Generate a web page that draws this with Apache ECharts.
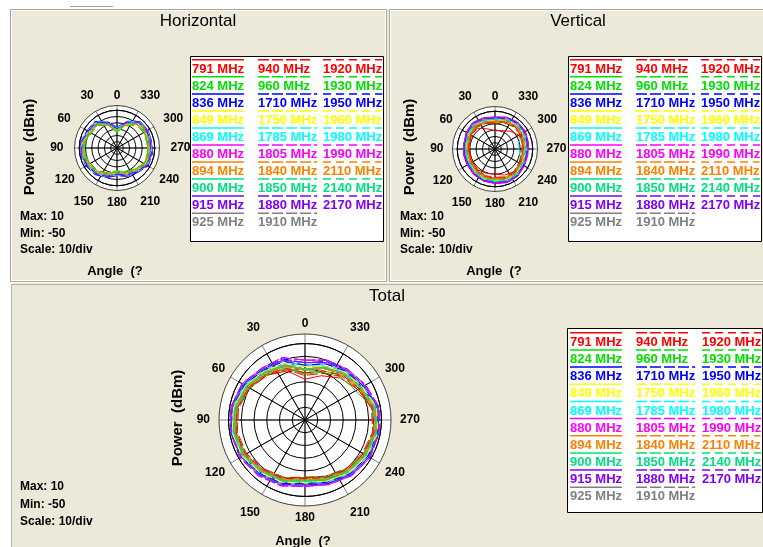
<!DOCTYPE html>
<html>
<head>
<meta charset="utf-8">
<script src="https://cdn.jsdelivr.net/npm/echarts@6/dist/echarts.min.js"></script>
<style>
html,body{margin:0;padding:0;background:#fff;}
#c{width:763px;height:547px;}
</style>
</head>
<body>
<div id="c"></div>
<script>
// ---------------- DATA ----------------
const ANGLES = [0,20,40,60,80,100,120,140,160,180,200,220,240,260,280,300,320,340];
const ANGLE_TICKS = [0,30,60,90,120,150,180,210,240,270,300,330];
const FREQS = ['791 MHz','824 MHz','836 MHz','849 MHz','869 MHz','880 MHz','894 MHz','900 MHz','915 MHz','925 MHz',
  '940 MHz','960 MHz','1710 MHz','1750 MHz','1785 MHz','1805 MHz','1840 MHz','1850 MHz','1880 MHz','1910 MHz',
  '1920 MHz','1930 MHz','1950 MHz','1960 MHz','1980 MHz','1990 MHz','2110 MHz','2140 MHz','2170 MHz'];
const R_MIN = -50, R_MAX = 10, R_STEP = 10;

// Horizontal (dBm), one row per frequency, at ANGLES
const H_DATA = [
[-19,-7,3,3,8,8,5,3,-2,-8,-4,-1,5,5,4,5,4,-7],
[-23,-11,-1,-1,4,4,1,-1,-6,-12,-8,-5,1,1,0,1,0,-11],
[-20,-9,1,2,6,7,3,1,-4,-10,-6,-3,4,3,2,3,2,-9],
[-24,-12,-2,-2,3,3,0,-2,-7,-13,-9,-6,0,0,-1,0,-1,-12],
[-20,-8,2,2,7,7,4,2,-3,-9,-5,-2,4,4,3,4,3,-8],
[-18,-6,4,4,9,8,6,4,-1,-7,-3,0,6,6,5,6,5,-6],
[-22,-10,0,0,5,5,2,0,-5,-11,-7,-4,2,2,1,2,1,-10],
[-21,-9,1,1,6,6,3,1,-4,-10,-6,-3,3,3,2,3,2,-9],
[-19,-8,3,3,8,7,5,3,-2,-8,-4,-1,5,4,4,5,4,-7],
[-23,-11,-1,-1,4,4,1,-1,-6,-12,-8,-5,1,1,0,1,0,-11],
[-20,-8,2,2,7,7,4,2,-3,-9,-5,-2,4,4,3,4,3,-8],
[-24,-12,-2,-2,3,3,0,-2,-7,-13,-9,-6,0,0,-1,0,-1,-12],
[-17,-5,5,5,9,9,7,5,0,-6,-2,1,7,7,6,7,6,-5],
[-20,-8,2,2,7,6,4,2,-3,-9,-5,-2,4,4,3,4,3,-8],
[-19,-7,3,3,8,8,5,3,-2,-8,-4,-1,5,5,4,5,4,-7],
[-22,-10,0,0,5,5,2,0,-5,-11,-7,-4,2,2,1,2,1,-10],
[-23,-11,-1,-1,4,4,1,-1,-6,-12,-8,-5,1,1,0,1,0,-11],
[-21,-9,1,1,6,6,3,1,-4,-10,-6,-3,3,3,2,3,2,-9],
[-18,-6,4,4,9,9,6,4,-1,-7,-3,0,6,6,5,6,5,-6],
[-22,-10,0,0,5,5,2,0,-5,-11,-7,-4,2,2,1,2,1,-10],
[-21,-9,1,1,6,6,3,1,-4,-10,-6,-3,3,3,2,3,2,-9],
[-25,-13,-3,-3,2,2,-1,-3,-8,-14,-10,-7,-1,-1,-2,-1,-2,-13],
[-19,-7,3,3,8,8,5,3,-2,-8,-4,-1,5,5,4,5,4,-7],
[-22,-10,0,0,5,5,2,0,-5,-11,-7,-4,2,2,1,2,1,-10],
[-18,-6,4,4,9,9,6,4,-1,-7,-3,0,6,6,5,6,5,-6],
[-20,-8,2,2,7,7,4,2,-3,-9,-5,-2,4,4,3,4,3,-8],
[-23,-11,-1,-1,4,4,1,-1,-6,-12,-8,-5,1,1,0,1,0,-11],
[-21,-9,1,1,6,6,3,1,-4,-10,-6,-3,3,3,2,3,2,-9],
[-19,-7,3,3,8,8,5,3,-2,-8,-4,-1,5,5,4,5,4,-7]
];

// Vertical (dBm)
const V_DATA = [
[-21,-16,-7,-6,-8,-9,-8,-7,-9,-10,-6,-3,-5,-6,-5,-6,-13,-19],
[-8,-5,-3,-5,-7,-6,-7,-5,-3,-3,-1,-1,-4,-5,-4,-3,-2,-5],
[-2,0,3,0,-2,-2,-3,0,2,2,4,4,1,0,1,3,3,1],
[-1,1,3,1,-1,-2,-1,1,3,3,5,5,2,1,2,4,4,2],
[-5,-3,-1,-3,-5,-5,-5,-3,-1,-1,1,1,-2,-10,-13,0,0,-2],
[0,2,4,2,0,0,0,2,4,4,6,6,3,2,3,5,5,3],
[-9,-6,-4,-6,-8,-8,-8,-6,-4,-4,-2,-2,-5,-6,-5,-3,-3,-5],
[-4,-1,0,-2,-4,-5,-4,-2,1,0,2,2,-1,-2,-1,1,1,-1],
[1,3,5,3,0,1,1,3,4,5,7,6,4,3,4,6,6,4],
[-6,-4,-2,-4,-6,-6,-6,-4,-2,-2,0,0,-3,-4,-3,-1,-1,-3],
[-10,-7,-5,-7,-9,-9,-9,-7,-5,-5,-3,-3,-6,-7,-6,-4,-4,-6],
[-7,-5,-3,-5,-7,-7,-6,-5,-3,-3,-1,-1,-4,-5,-4,-2,-2,-4],
[-3,-1,1,-1,-3,-3,-3,-1,1,1,3,3,0,-1,0,2,2,0],
[-2,0,2,0,-2,-2,-2,0,2,2,4,4,1,0,1,3,3,1],
[-4,-2,0,-2,-3,-4,-4,-2,0,1,2,2,-1,-2,-1,1,1,-1],
[0,2,4,2,0,0,-1,2,4,4,6,6,3,2,3,5,5,3],
[-6,-4,-2,-4,-6,-6,-6,-4,-2,-2,0,0,-3,-4,-3,-1,-1,-3],
[-3,-1,1,-1,-3,-3,-3,-1,1,1,3,3,0,-1,0,2,2,0],
[-1,1,3,1,-1,-1,-1,1,3,3,5,5,2,1,2,4,4,2],
[-5,-3,-1,-3,-5,-5,-5,-3,-1,-1,1,1,-2,-3,-2,0,0,-2],
[-7,-5,-3,-5,-7,-7,-7,-5,-3,-3,-1,-1,-4,-5,-4,-2,-2,-4],
[-3,-1,1,-1,-3,-3,-3,-1,1,1,3,3,0,-1,0,2,2,0],
[-1,1,3,1,-1,-1,-1,1,3,3,5,5,2,1,2,4,4,2],
[-4,-2,0,-2,-4,-4,-4,-2,0,0,2,2,-1,-2,-1,1,1,-1],
[-2,0,2,0,-2,-2,-2,0,2,2,4,4,1,0,1,3,3,1],
[0,2,4,2,0,0,0,2,4,4,6,6,3,2,3,5,5,3],
[-6,-4,-2,-4,-6,-6,-6,-4,-2,-2,0,0,-3,-4,-3,-1,-1,-3],
[-3,-1,1,-1,-3,-3,-3,-1,1,1,3,3,0,-1,0,2,2,0],
[-1,1,3,1,-1,-1,-1,1,3,3,5,5,2,1,2,4,4,2]
];

// Total (dBm)
const T_DATA = [
[-18,-9,-4,1,4,5,5,2,-1,-5,-2,1,4,5,4,-2,-7,-13],
[-14,-7,-4,0,4,5,4,1,-2,-5,-3,0,3,5,4,-4,-6,-10],
[-8,-3,0,4,7,8,7,4,2,-1,1,4,6,8,7,2,-1,-5],
[-10,-4,-1,3,6,7,6,3,1,-2,0,3,5,7,6,1,-2,-6],
[-7,-1,1,5,8,8,8,5,3,0,2,5,7,8,8,3,0,-3],
[-5,0,2,6,8,9,8,6,4,1,3,6,8,9,8,4,1,-2],
[-13,-6,-3,1,4,5,4,1,-1,-4,-2,1,3,5,4,-1,-4,-9],
[-11,-5,-2,2,5,6,5,2,0,-3,-1,2,4,6,5,0,-3,-7],
[-7,-1,1,5,8,9,8,5,3,0,2,5,7,8,8,3,0,-3],
[-10,-4,-1,3,6,7,6,3,1,-2,0,3,5,7,6,1,-2,-6],
[-15,-8,-4,0,3,4,3,0,-2,-5,-3,0,2,4,3,-2,-5,-11],
[-13,-7,-3,1,4,5,4,1,-1,-4,-2,1,3,5,4,-1,-4,-9],
[-5,1,2,6,9,9,8,6,4,1,3,6,8,9,8,4,1,-1],
[-8,-3,0,4,7,8,7,4,2,-1,1,4,6,8,7,2,-1,-5],
[-7,-1,1,5,8,8,8,5,3,0,2,5,7,8,8,3,0,-3],
[-3,2,3,7,9,9,9,7,5,2,4,7,9,9,9,5,2,0],
[-11,-5,-2,2,5,6,5,2,0,-3,-1,2,4,6,5,0,-3,-7],
[-10,-4,-1,3,6,7,6,3,1,-2,0,3,5,7,6,1,-2,-6],
[-3,2,3,7,9,9,9,7,5,2,4,7,9,9,9,5,2,0],
[-11,-5,-2,2,5,6,5,2,0,-3,-1,2,4,6,5,0,-3,-7],
[-13,-7,-3,1,4,5,4,1,-1,-4,-2,1,3,5,4,-1,-4,-9],
[-10,-4,-1,3,6,7,6,3,1,-2,0,3,5,7,6,1,-2,-6],
[-7,-1,1,5,8,9,8,5,3,0,2,5,7,8,8,3,0,-3],
[-8,-3,0,4,7,8,7,4,2,-1,1,4,6,8,7,2,-1,-5],
[-5,0,2,6,8,9,8,6,4,1,3,6,8,9,8,4,1,-2],
[-3,2,3,7,9,9,9,7,5,2,4,7,9,9,9,5,2,0],
[-11,-5,-2,2,5,6,5,2,0,-3,-1,2,4,6,5,0,-3,-7],
[-10,-4,-1,3,6,7,6,3,1,-2,0,3,5,7,6,1,-2,-6],
[-5,0,2,6,8,9,8,6,4,1,3,6,8,9,8,4,1,-2]
];

// ---------------- STYLE / LAYOUT ----------------
const ROW_COLORS = ['#FF0000','#00E000','#0000FF','#FFFF00','#00FFFF','#FF00FF','#FF8000','#00E080','#8000FF','#808080'];
const COL_DASH = ['solid', [11,3], [8,5]];
const FONT = '"Liberation Sans", Arial, sans-serif';
const BG = '#ECE9D8';

const PANELS = [
  {title:'Horizontal', tx:198, ty:21, cx:117, cy:148, R:42.5, data:H_DATA,
   power:[30,147], info:[20,216.7,16.7], angleLbl:[115,271], vpad:6, hpad60:6, hpad90:7,
   legend:{x:190.5,y:56.5,w:193,h:185,cols:[192,258,323],row0:69.3,pitch:17.04}},
  {title:'Vertical', tx:578, ty:21, cx:495, cy:149, R:42.5, data:V_DATA,
   power:[410,147], info:[400,216.7,16.7], angleLbl:[494,271], vpad:6, hpad60:2, hpad90:5,
   legend:{x:568.5,y:56.5,w:193,h:185,cols:[570,636,701],row0:69.3,pitch:17.04}},
  {title:'Total', tx:387, ty:296, cx:305, cy:420, R:86, data:T_DATA,
   power:[178,418], info:[20,486.7,17.5], angleLbl:[303,541], vpad:8, hpad60:2, hpad90:5,
   legend:{x:567.5,y:328.5,w:195,h:184,cols:[570,636,702],row0:342.3,pitch:17.16}}
];

// ---------------- BUILD ----------------
const chart = echarts.init(document.getElementById('c'), null, {renderer:'canvas'});
const mctx = document.createElement('canvas').getContext('2d');
mctx.font = 'bold 13px ' + FONT;

function makeRich(p){
  const vp = p.vpad, h6 = p.hpad60, h9 = p.hpad90;
  const base = {fontSize:12, fontWeight:'bold', color:'#000', fontFamily:FONT};
  const pads = {0:[0,0,0,0],30:[0,0,vp,0],330:[0,0,vp,0],60:[0,h6,0,h6],300:[0,h6,0,h6],
    90:[0,h9,0,h9],270:[0,h9,0,h9],120:[2,2,0,2],240:[2,2,0,2],150:[vp+1,0,0,0],210:[vp+1,0,0,0],180:[2,0,0,0]};
  const rich = {};
  ANGLE_TICKS.forEach(a => { rich['a'+a] = Object.assign({padding:pads[a]}, base); });
  return rich;
}

const polar = [], angleAxis = [], radiusAxis = [], series = [], graphic = [];

graphic.push({type:'rect', z:-10, silent:true, shape:{x:10,y:9,width:753,height:538}, style:{fill:BG}});
graphic.push({type:'line', z:-9, silent:true, shape:{x1:70,y1:6.5,x2:113,y2:6.5}, style:{stroke:'#A0A0A0',lineWidth:1}});
// panel frames
graphic.push({type:'rect', z:-9, silent:true, shape:{x:10.5,y:9.5,width:376,height:272}, style:{fill:null,stroke:'#ACA899',lineWidth:1}});
graphic.push({type:'rect', z:-9, silent:true, shape:{x:11.5,y:10.5,width:374,height:270}, style:{fill:null,stroke:'#FFFFFF',lineWidth:1}});
graphic.push({type:'rect', z:-9, silent:true, shape:{x:389.5,y:9.5,width:380,height:272}, style:{fill:null,stroke:'#ACA899',lineWidth:1}});
graphic.push({type:'rect', z:-9, silent:true, shape:{x:390.5,y:10.5,width:380,height:270}, style:{fill:null,stroke:'#FFFFFF',lineWidth:1}});
graphic.push({type:'rect', z:-9, silent:true, shape:{x:10.5,y:282.5,width:760,height:270}, style:{fill:null,stroke:'#FFFFFF',lineWidth:1}});
graphic.push({type:'rect', z:-9, silent:true, shape:{x:11.5,y:284.5,width:760,height:270}, style:{fill:null,stroke:'#808080',lineWidth:1,lineDash:[1,1]}});

function txt(x, y, text, size, weight, align, valign, extra){
  return Object.assign({type:'text', x:x, y:y, z:5, silent:true,
    style:{text:text, fill:'#000', font: weight + ' ' + size + 'px ' + FONT,
      align:align, verticalAlign:valign, textAlign:align, textVerticalAlign:valign}}, extra || {});
}

PANELS.forEach((p, k) => {
  const rIn = p.R * 8 / 9;
  // outer decorative ring with labels
  polar.push({center:[p.cx, p.cy], radius:p.R});
  angleAxis.push({polarIndex:2*k, type:'value', min:0, max:360, interval:30, startAngle:90, clockwise:false, z:0,
    axisLine:{show:true, lineStyle:{color:'#404040', width:1}},
    axisTick:{show:false},
    splitLine:{show:true, lineStyle:{color:'#808080', width:1}},
    axisLabel:{show:true, margin:4, formatter: v => '{a'+v+'|'+v+'}', rich: makeRich(p),
      fontSize:12, fontWeight:'bold', color:'#000', fontFamily:FONT}});
  radiusAxis.push({polarIndex:2*k, type:'value', min:0, max:1, interval:1, z:0,
    axisLine:{show:false}, axisTick:{show:false}, axisLabel:{show:false},
    splitLine:{show:false}, splitArea:{show:true, areaStyle:{color:['#FFFFFF']}}});
  // inner data grid
  polar.push({center:[p.cx, p.cy], radius:rIn});
  angleAxis.push({polarIndex:2*k+1, type:'value', min:0, max:360, interval:30, startAngle:90, clockwise:false, z:1,
    axisLine:{show:true, lineStyle:{color:'#000', width:1}},
    axisTick:{show:false}, axisLabel:{show:false},
    splitLine:{show:true, lineStyle:{color:'#000', width:1}}});
  radiusAxis.push({polarIndex:2*k+1, type:'value', min:R_MIN, max:R_MAX, interval:R_STEP, z:1,
    axisLine:{show:false}, axisTick:{show:false}, axisLabel:{show:false},
    splitLine:{show:true, lineStyle:{color:'#000', width:1}}, splitArea:{show:false}});

  p.data.forEach((vals, i) => {
    const pts = ANGLES.map((a, j) => [vals[j], a]);
    pts.push([vals[0], 360]);
    series.push({type:'line', coordinateSystem:'polar', polarIndex:2*k+1, name:FREQS[i],
      data:pts, symbol:'none', showSymbol:false, smooth:false, silent:true, z:3, animation:false,
      lineStyle:{color:ROW_COLORS[i%10], width:1, type:COL_DASH[Math.floor(i/10)]}});
  });

  // texts
  graphic.push(txt(p.tx, p.ty, p.title, 17, 'normal', 'center', 'middle'));
  graphic.push(txt(p.power[0], p.power[1], 'Power  (dBm)', 15, 'bold', 'center', 'middle', {rotation:Math.PI/2}));
  ['Max: 10','Min: -50','Scale: 10/div'].forEach((t, j) => {
    graphic.push(txt(p.info[0], p.info[1] + j*p.info[2], t, 12, 'bold', 'left', 'middle'));
  });
  graphic.push(txt(p.angleLbl[0], p.angleLbl[1], 'Angle  (?', 13, 'bold', 'center', 'middle'));

  // legend
  const L = p.legend;
  graphic.push({type:'rect', z:4, silent:true, shape:{x:L.x,y:L.y,width:L.w,height:L.h}, style:{fill:'#FFFFFF',stroke:'#000',lineWidth:1}});
  FREQS.forEach((f, i) => {
    const col = Math.floor(i/10), row = i%10;
    const x = L.cols[col], y = L.row0 + row*L.pitch;
    const w = mctx.measureText(f).width;
    const dash = COL_DASH[col] === 'solid' ? null : COL_DASH[col];
    graphic.push({type:'line', z:5, silent:true, shape:{x1:x, y1:y-9.5, x2:x+w, y2:y-9.5},
      style:{stroke:ROW_COLORS[row], lineWidth:1.5, lineDash:dash}});
    graphic.push({type:'text', x:x, y:y, z:5, silent:true,
      style:{text:f, fill:ROW_COLORS[row], font:'bold 13px ' + FONT, align:'left', verticalAlign:'middle', textAlign:'left', textVerticalAlign:'middle'}});
  });
});

chart.setOption({
  animation:false,
  backgroundColor:'#FFFFFF',
  polar, angleAxis, radiusAxis, series, graphic
});
</script>
</body>
</html>
